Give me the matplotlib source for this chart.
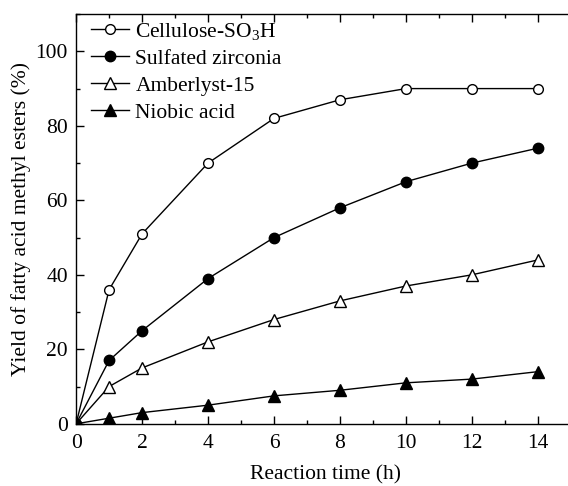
import numpy as np
import matplotlib
matplotlib.use('Agg')
import matplotlib.pyplot as plt
from matplotlib.ticker import MultipleLocator

plt.rcParams['font.family'] = ['Liberation Serif', 'DejaVu Serif']
plt.rcParams['mathtext.fontset'] = 'custom'
plt.rcParams['mathtext.rm'] = 'Liberation Serif'
plt.rcParams['mathtext.it'] = 'Liberation Serif:italic'

time_h = [0, 1, 2, 4, 6, 8, 10, 12, 14]
cellulose = [0, 36, 51, 70, 82, 87, 90, 90, 90]
zirconia = [0, 17, 25, 39, 50, 58, 65, 70, 74]
amberlyst = [0, 10, 15, 22, 28, 33, 37, 40, 44]
niobic = [0, 1.5, 3, 5, 7.5, 9, 11, 12, 14]

labels = ['Cellulose-SO$_3$H', 'Sulfated zirconia', 'Amberlyst-15', 'Niobic acid']

fig = plt.figure(figsize=(5.68, 4.86), dpi=100)
# axes run slightly past the right edge, as in the cropped original
ax = fig.add_axes([0.134, 0.128, 0.877, 0.843])

ax.plot(time_h, cellulose, '-o', color='black', mfc='white', mec='black',
        ms=7, lw=1, mew=1, label=labels[0])
ax.plot(time_h, zirconia, '-o', color='black', mfc='black', mec='black',
        ms=7.5, lw=1, mew=1, label=labels[1])
ax.plot(time_h, amberlyst, '-^', color='black', mfc='white', mec='black',
        ms=8, lw=1, mew=1, label=labels[2])
ax.plot(time_h, niobic, '-^', color='black', mfc='black', mec='black',
        ms=8, lw=1, mew=1, label=labels[3])

ax.set_xlim(0, 15.1)
ax.set_ylim(0, 110)
ax.xaxis.set_major_locator(MultipleLocator(2))
ax.xaxis.set_minor_locator(MultipleLocator(1))
ax.yaxis.set_major_locator(MultipleLocator(20))
ax.yaxis.set_minor_locator(MultipleLocator(10))
ax.tick_params(which='both', direction='in', top=True, right=False, labelsize=15.5)
ax.tick_params(which='major', length=6, width=1)
ax.tick_params(which='minor', length=3, width=1)
ax.tick_params(axis='x', which='major', pad=7)
ax.tick_params(axis='y', which='major', pad=6)
for s in ax.spines.values():
    s.set_linewidth(1)

ax.set_xlabel('Reaction time (h)', fontsize=15.5, labelpad=9)
ax.set_ylabel('Yield of fatty acid methyl esters (%)', fontsize=15.5, labelpad=3)

ax.legend(loc='upper left', bbox_to_anchor=(0.0, 1.02), frameon=False, fontsize=15.5,
          handlelength=1.75, handletextpad=0.3, labelspacing=0.32, borderaxespad=0.3)

plt.savefig('out.png', dpi=100)
